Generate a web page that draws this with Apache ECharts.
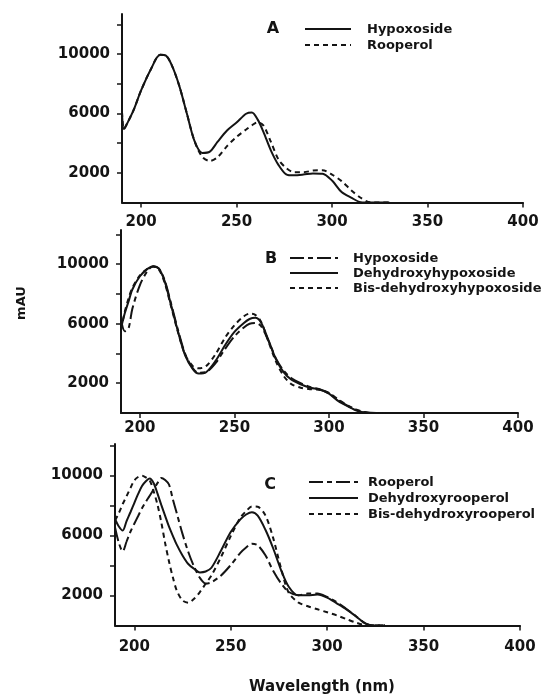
<!DOCTYPE html>
<html>
<head>
<meta charset="utf-8">
<title>UV spectra</title>
<script src="https://cdn.jsdelivr.net/npm/echarts@6/dist/echarts.min.js"></script>
<style>
  html, body { margin: 0; padding: 0; background: #fff; }
  #Dom { width: 548px; height: 694px; }
</style>
</head>
<body>
<div id="Dom"></div>
<script>
// wavelength (nm) for each panel
const wlA = [190, 191, 193, 196, 200, 205, 210, 213, 216, 220, 224, 228, 232, 236, 240, 245, 250, 255, 258, 261, 264, 268, 272, 276, 280, 285, 290, 295, 300, 305, 310, 315, 320, 325, 330];
const wlB = [190, 192, 194, 196, 200, 204, 207, 210, 213, 216, 220, 224, 228, 231, 235, 240, 245, 250, 255, 258, 261, 264, 268, 272, 276, 280, 285, 290, 295, 300, 305, 310, 315, 320, 325, 330];
const wlC = [190, 192, 194, 196, 198, 200, 202, 204, 206, 208, 210, 212, 214, 216, 218, 220, 222, 225, 228, 231, 234, 237, 240, 245, 250, 255, 258, 261, 264, 268, 272, 276, 280, 285, 290, 295, 300, 305, 310, 315, 320, 325, 330];

// panel A (mAU)
const aHypoxoside = [6100, 4950, 5400, 6200, 7550, 8950, 9950, 9900, 9270, 7860, 5980, 4130, 3340, 3430, 4080, 4850, 5390, 5980, 6060, 5600, 4780, 3500, 2520, 1900, 1830, 1880, 1960, 1940, 1480, 700, 330, 20, 0, 0, 0];
const aRooperol = [6100, 4950, 5400, 6200, 7550, 8950, 9950, 9900, 9270, 7860, 5980, 4130, 3080, 2800, 3050, 3800, 4420, 4920, 5200, 5400, 5200, 4080, 2880, 2320, 2040, 2040, 2150, 2170, 1880, 1440, 830, 320, 10, 0, 0];

// panel B
const bHypoxoside = [6300, 5500, 5700, 7000, 8600, 9550, 9850, 9720, 8950, 7600, 5650, 3950, 3000, 2700, 2750, 3350, 4300, 5150, 5750, 6000, 6050, 5850, 4850, 3650, 2850, 2350, 2000, 1750, 1600, 1320, 850, 480, 180, 30, 0, 0];
const bDehydroxy = [5700, 6700, 7500, 8300, 9190, 9690, 9870, 9700, 8900, 7500, 5550, 3850, 2950, 2650, 2740, 3500, 4550, 5450, 6050, 6320, 6400, 6100, 4900, 3600, 2750, 2250, 1930, 1700, 1580, 1300, 800, 450, 150, 20, 0, 0];
const bBisDehydroxy = [5600, 6800, 7700, 8400, 9250, 9700, 9850, 9650, 8800, 7400, 5500, 3900, 3150, 3000, 3150, 3950, 5050, 5900, 6500, 6680, 6600, 6150, 4800, 3450, 2500, 1950, 1700, 1600, 1560, 1350, 900, 500, 200, 40, 0, 0];

// panel C
const cRooperol = [6550, 5500, 4950, 5600, 6250, 6780, 7300, 7820, 8250, 8650, 9070, 9490, 9840, 9700, 9400, 8410, 7500, 6110, 4900, 3930, 3180, 2800, 2880, 3340, 4030, 4840, 5200, 5450, 5350, 4680, 3650, 2830, 2250, 2020, 2130, 2140, 1900, 1550, 1100, 620, 130, 0, 0];
const cDehydroxy = [7100, 6600, 6330, 6960, 7550, 8160, 8770, 9300, 9620, 9800, 9500, 8810, 8040, 7310, 6590, 5980, 5390, 4670, 4100, 3780, 3540, 3600, 3850, 5000, 6230, 7070, 7400, 7550, 7320, 6380, 5150, 3730, 2600, 2010, 2010, 2060, 1860, 1480, 1080, 600, 130, 0, 0];
const cBisDehydroxy = [7000, 7500, 8100, 8620, 9160, 9670, 9900, 9990, 9870, 9680, 8960, 8070, 6880, 5490, 4270, 3210, 2340, 1670, 1520, 1780, 2230, 2780, 3330, 4570, 5960, 7190, 7620, 7930, 7910, 7340, 5840, 3860, 2200, 1540, 1280, 1080, 880, 670, 430, 190, 20, 0, 0];

// axis ticks
const xTicks = [200, 250, 300, 350, 400];
const yTicks = [2000, 4000, 6000, 8000, 10000, 12000];
const yLabels = [2000, 6000, 10000];

const ink = "#141414";
const font = "DejaVu Sans";

// line styles: solid, dash-dot, dashed
const SOLID = "solid";
const DASHDOT = [14, 4, 5, 4];
const DASHED = [5, 4];

let myChart = echarts.init(document.getElementById("Dom"), null, { renderer: "canvas" });

function pairs(xs, ys) {
  return xs.map((x, i) => [x, ys[i]]);
}

function xAxisOf(idx, margin) {
  return {
    type: "value",
    gridIndex: idx,
    min: 190,
    max: 400,
    splitLine: { show: false },
    axisLine: { show: true, onZero: false, lineStyle: { color: ink, width: 2 } },
    axisTick: { show: true, customValues: xTicks, length: 5, lineStyle: { color: ink, width: 1.5 } },
    axisLabel: {
      customValues: xTicks,
      margin: margin,
      color: ink,
      fontFamily: font,
      fontWeight: "bold",
      fontSize: 15,
      formatter: (v) => String(v),
    },
  };
}

function yAxisOf(idx, max) {
  return {
    type: "value",
    gridIndex: idx,
    min: 0,
    max: max,
    splitLine: { show: false },
    axisLine: { show: true, onZero: false, lineStyle: { color: ink, width: 2 } },
    axisTick: { show: true, customValues: yTicks, length: 5, lineStyle: { color: ink, width: 1.5 } },
    axisLabel: {
      customValues: yLabels,
      margin: 12,
      color: ink,
      fontFamily: font,
      fontWeight: "bold",
      fontSize: 15,
      formatter: (v) => String(v), // no thousands separator
    },
  };
}

function lineOf(name, idx, xs, ys, dash) {
  return {
    name: name,
    type: "line",
    xAxisIndex: idx,
    yAxisIndex: idx,
    data: pairs(xs, ys),
    smooth: 0.3,
    symbol: "none",
    lineStyle: { color: ink, width: 2, type: dash },
    silent: true,
  };
}

// legend key: a short line sample plus its text
function key(x1, x2, y, tx, label, dash) {
  return [
    {
      type: "line",
      shape: { x1: x1, y1: y, x2: x2, y2: y },
      style: { stroke: ink, lineWidth: 2, lineDash: dash === SOLID ? null : dash },
    },
    {
      type: "text",
      x: tx,
      y: y + 1,
      style: { text: label, fill: ink, font: "bold 13px '" + font + "'", verticalAlign: "middle", align: "left" },
    },
  ];
}

function letter(x, y, t) {
  return {
    type: "text",
    x: x,
    y: y,
    style: { text: t, fill: ink, font: "bold 16px '" + font + "'", align: "center", verticalAlign: "middle" },
  };
}

let option = {
  backgroundColor: "#fff",
  animation: false,
  grid: [
    { left: 122, top: 14, width: 401, height: 188.5 },
    { left: 121, top: 230, width: 397, height: 183 },
    { left: 115, top: 444, width: 405, height: 181.5 },
  ],
  xAxis: [xAxisOf(0, 12), xAxisOf(1, 8), xAxisOf(2, 14)],
  yAxis: [yAxisOf(0, 12700), yAxisOf(1, 12300), yAxisOf(2, 12100)],
  series: [
    lineOf("Hypoxoside", 0, wlA, aHypoxoside, SOLID),
    lineOf("Rooperol", 0, wlA, aRooperol, DASHED),
    lineOf("Hypoxoside", 1, wlB, bHypoxoside, DASHDOT),
    lineOf("Dehydroxyhypoxoside", 1, wlB, bDehydroxy, SOLID),
    lineOf("Bis-dehydroxyhypoxoside", 1, wlB, bBisDehydroxy, DASHED),
    lineOf("Rooperol", 2, wlC, cRooperol, DASHDOT),
    lineOf("Dehydroxyrooperol", 2, wlC, cDehydroxy, SOLID),
    lineOf("Bis-dehydroxyrooperol", 2, wlC, cBisDehydroxy, DASHED),
  ],
  graphic: [
    letter(273, 29, "A"),
    letter(271, 259, "B"),
    letter(270, 485, "C"),
    ...key(305, 351, 29, 367, "Hypoxoside", SOLID),
    ...key(305, 351, 45, 367, "Rooperol", DASHED),
    ...key(290, 338, 258, 353, "Hypoxoside", DASHDOT),
    ...key(290, 338, 273, 353, "Dehydroxyhypoxoside", SOLID),
    ...key(290, 338, 288, 353, "Bis-dehydroxyhypoxoside", DASHED),
    ...key(309, 358, 482, 368, "Rooperol", DASHDOT),
    ...key(309, 358, 498, 368, "Dehydroxyrooperol", SOLID),
    ...key(309, 358, 514, 368, "Bis-dehydroxyrooperol", DASHED),
    {
      type: "text",
      x: 22,
      y: 303,
      rotation: Math.PI / 2,
      style: { text: "mAU", fill: ink, font: "bold 13px '" + font + "'", align: "center", verticalAlign: "middle" },
    },
    {
      type: "text",
      x: 322,
      y: 687,
      style: { text: "Wavelength (nm)", fill: ink, font: "bold 15px '" + font + "'", align: "center", verticalAlign: "middle" },
    },
  ],
};

option && myChart.setOption(option);
</script>
</body>
</html>
